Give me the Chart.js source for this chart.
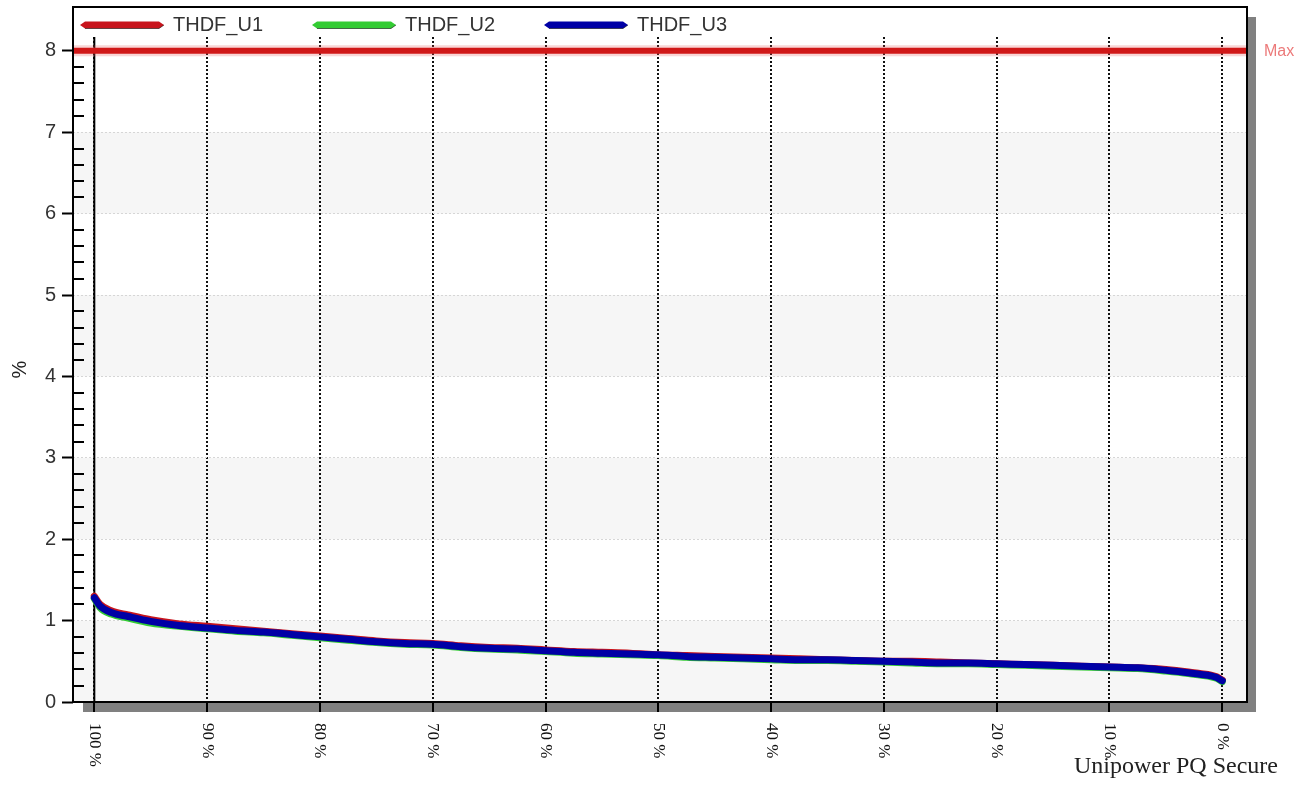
<!DOCTYPE html>
<html><head><meta charset="utf-8">
<script src="https://cdn.jsdelivr.net/npm/chart.js@4"></script>
<style>html,body{margin:0;padding:0;background:#fff;overflow:hidden}</style>
</head><body>
<canvas id="c" width="1313" height="785" style="display:block;width:1313px;height:785px"></canvas>
<script>
// ---- data ----
const pct = [100, 99.5, 98.5, 97, 95, 92.5, 90, 87.5, 85, 82.5, 80, 77.5, 75, 72.5, 70, 67.5, 65, 62.5, 60, 57.5, 55, 52.5, 50, 47.5, 45, 42.5, 40, 37.5, 35, 32.5, 30, 27.5, 25, 22.5, 20, 17.5, 15, 12.5, 10, 7.5, 5, 3, 2, 1, 0.5, 0];
const thdfU1 = [1.30,1.20,1.12,1.07,1.01,0.96,0.93,0.90,0.87,0.84,0.81,0.78,0.75,0.73,0.72,0.69,0.67,0.66,0.64,0.62,0.61,0.60,0.58,0.57,0.56,0.55,0.54,0.53,0.52,0.51,0.50,0.50,0.49,0.48,0.47,0.46,0.45,0.44,0.43,0.42,0.40,0.37,0.35,0.33,0.31,0.27];
const thdfU2 = [1.27,1.16,1.08,1.03,0.97,0.93,0.90,0.87,0.85,0.82,0.79,0.76,0.73,0.71,0.70,0.67,0.65,0.64,0.62,0.60,0.59,0.58,0.57,0.55,0.54,0.53,0.52,0.51,0.51,0.50,0.49,0.48,0.47,0.47,0.46,0.45,0.44,0.43,0.42,0.41,0.38,0.35,0.33,0.31,0.29,0.25];
const thdfU3 = [1.28,1.18,1.10,1.05,0.99,0.94,0.91,0.88,0.86,0.83,0.80,0.77,0.74,0.72,0.71,0.68,0.66,0.65,0.63,0.61,0.60,0.59,0.58,0.56,0.55,0.54,0.53,0.52,0.52,0.51,0.50,0.49,0.48,0.48,0.47,0.46,0.45,0.44,0.43,0.42,0.39,0.36,0.34,0.32,0.30,0.26];
const seriesNames = ['THDF_U1', 'THDF_U2', 'THDF_U3'];
const xTicks = [100, 90, 80, 70, 60, 50, 40, 30, 20, 10, 0];
const xTickLabels = ['100 %', '90 %', '80 %', '70 %', '60 %', '50 %', '40 %', '30 %', '20 %', '10 %', '0 %'];
const yTicks = [0, 1, 2, 3, 4, 5, 6, 7, 8];
const maxLimit = 8;
const maxLabel = 'Max';
const yTitle = '%';
const footerText = 'Unipower PQ Secure';

const colors = ['#c8141c', '#33cc33', '#0000a6'];
const SANS = '"Liberation Sans", Arial, sans-serif';
const SERIF = '"Liberation Serif", "Times New Roman", serif';

const toPts = arr => pct.map((p, i) => ({x: p, y: arr[i]}));

const deco = {
  id: 'deco',
  beforeDraw(chart) {
    const {ctx, chartArea: a, scales: {y}} = chart;
    const frameTop = a.top - 30;
    ctx.save();
    ctx.fillStyle = '#808080';
    ctx.fillRect(a.right, frameTop + 10, 9, a.bottom + 10 - (frameTop + 10));
    ctx.fillRect(a.left + 10, a.bottom, a.right + 9 - (a.left + 10), 10);
    ctx.fillStyle = '#ffffff';
    ctx.fillRect(a.left, frameTop, a.right - a.left, a.bottom - frameTop);
    ctx.fillStyle = '#f6f6f6';
    for (let k = 0; k + 1 < yTicks.length - 1; k += 2) {
      const t = y.getPixelForValue(yTicks[k + 1]);
      const b = y.getPixelForValue(yTicks[k]);
      ctx.fillRect(a.left, t, a.right - a.left, b - t);
    }
    ctx.restore();
  },
  beforeDatasetsDraw(chart) {
    const {ctx, chartArea: a, scales: {x, y}} = chart;
    ctx.save();
    ctx.strokeStyle = '#000';
    ctx.lineWidth = 2;
    const x0 = x.getPixelForValue(xTicks[0]);
    ctx.beginPath(); ctx.moveTo(x0, a.top); ctx.lineTo(x0, a.bottom); ctx.stroke();
    ctx.beginPath();
    for (let i = 1; i < 40; i++) {
      if (i % 5 === 0) continue;
      const py = Math.round(y.getPixelForValue(i / 5));
      ctx.moveTo(a.left, py); ctx.lineTo(a.left + 11, py);
    }
    ctx.stroke();
    ctx.restore();
  },
  afterDatasetsDraw(chart) {
    const {ctx, chartArea: a, scales: {x, y}} = chart;
    const frameTop = a.top - 30;
    ctx.save();
    const my = y.getPixelForValue(maxLimit);
    ctx.strokeStyle = 'rgba(230,90,90,0.25)';
    ctx.lineWidth = 11;
    ctx.beginPath(); ctx.moveTo(a.left, my); ctx.lineTo(a.right, my); ctx.stroke();
    ctx.strokeStyle = '#d01818';
    ctx.lineWidth = 6;
    ctx.beginPath(); ctx.moveTo(a.left, my); ctx.lineTo(a.right, my); ctx.stroke();
    ctx.fillStyle = '#ec7a7a';
    ctx.font = '16px ' + SANS;
    ctx.textAlign = 'left'; ctx.textBaseline = 'middle';
    ctx.fillText(maxLabel, a.right + 17, my + 1);
    ctx.strokeStyle = '#000';
    ctx.lineWidth = 2;
    ctx.strokeRect(a.left, frameTop, a.right - a.left, a.bottom - frameTop);
    const ds = chart.data.datasets;
    ds.forEach((d, i) => {
      const lx = a.left + 7 + i * 232, ly = frameTop + 18, w = 84, h = 3.5;
      ctx.fillStyle = d.borderColor;
      ctx.beginPath();
      ctx.moveTo(lx, ly);
      ctx.lineTo(lx + 5, ly - h);
      ctx.lineTo(lx + w - 5, ly - h);
      ctx.lineTo(lx + w, ly);
      ctx.lineTo(lx + w - 5, ly + h);
      ctx.lineTo(lx + 5, ly + h);
      ctx.closePath();
      ctx.fill();
      ctx.strokeStyle = 'rgba(0,0,0,0.55)';
      ctx.lineWidth = 1;
      ctx.beginPath(); ctx.moveTo(lx + 5, ly + h); ctx.lineTo(lx + w - 5, ly + h); ctx.lineTo(lx + w, ly); ctx.stroke();
      ctx.fillStyle = '#333';
      ctx.font = '20px ' + SANS;
      ctx.textAlign = 'left'; ctx.textBaseline = 'middle';
      ctx.fillText(d.label, lx + w + 9, ly);
    });
    ctx.restore();
  },
  afterDraw(chart) {
    const {ctx, chartArea: a, scales: {x}} = chart;
    ctx.save();
    ctx.fillStyle = '#111';
    ctx.font = '17px ' + SERIF;
    ctx.textAlign = 'left'; ctx.textBaseline = 'middle';
    x.ticks.forEach((t, i) => {
      const px = x.getPixelForValue(t.value);
      ctx.save();
      ctx.translate(px, a.bottom + 21);
      ctx.rotate(Math.PI / 2);
      ctx.fillText(xTickLabels[i], 0, 0);
      ctx.restore();
    });
    ctx.fillStyle = '#222';
    ctx.font = '24px ' + SERIF;
    ctx.textBaseline = 'alphabetic';
    ctx.fillText(footerText, 1074, 773);
    ctx.restore();
  }
};

new Chart(document.getElementById('c'), {
  type: 'line',
  data: {
    datasets: [
      {label: seriesNames[0], data: toPts(thdfU1), borderColor: colors[0], order: 2},
      {label: seriesNames[1], data: toPts(thdfU2), borderColor: colors[1], order: 1},
      {label: seriesNames[2], data: toPts(thdfU3), borderColor: colors[2], order: 0}
    ].map(d => Object.assign(d, {borderWidth: 7, pointRadius: 0, fill: false, cubicInterpolationMode: 'monotone', borderCapStyle: 'round', borderJoinStyle: 'round'}))
  },
  options: {
    responsive: false,
    animation: false,
    devicePixelRatio: 1,
    layout: {padding: {top: 37, right: 66, left: 0, bottom: 0}},
    plugins: {legend: {display: false}, tooltip: {enabled: false}},
    scales: {
      x: {
        type: 'linear', reverse: true, min: -2.19, max: 101.89,
        afterBuildTicks: s => { s.ticks = xTicks.map(v => ({value: v})); },
        afterFit: s => { s.height = 83; },
        ticks: {display: false},
        grid: {color: '#111', lineWidth: 2, tickLength: 10, tickWidth: 2, tickColor: '#000'},
        border: {display: false, dash: [2, 2]}
      },
      y: {
        type: 'linear', min: 0, max: 8.17,
        afterBuildTicks: s => { s.ticks = yTicks.map(v => ({value: v})); },
        afterFit: s => { s.width = 73; },
        ticks: {font: {family: SANS, size: 20}, color: '#333', padding: 6},
        grid: {color: '#d6d6d6', lineWidth: 1, tickLength: 11, tickWidth: 2, tickColor: '#000'},
        border: {display: false, dash: [2, 2]},
        title: {display: true, text: yTitle, font: {family: SANS, size: 20}, color: '#222', padding: {top: 8, bottom: 0}}
      }
    }
  },
  plugins: [deco]
});
</script>
</body></html>
